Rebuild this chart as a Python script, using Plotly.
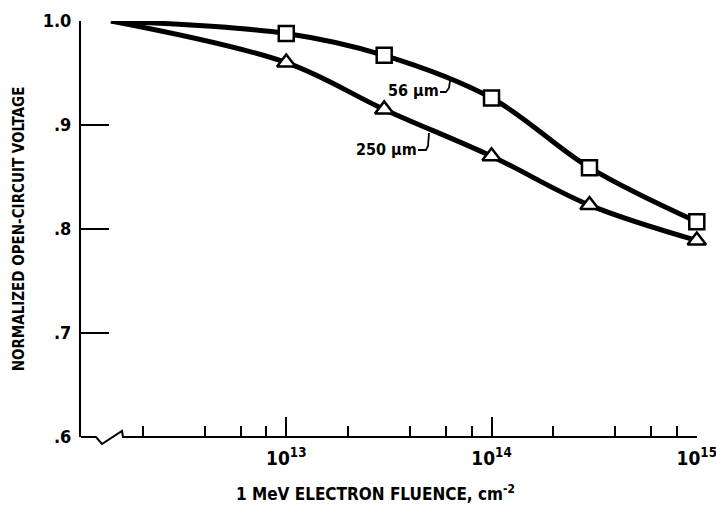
import plotly.graph_objects as go

# ---- data ----
fluence = [1e13, 3e13, 1e14, 3e14, 1e15]
voc_56um = [0.988, 0.967, 0.926, 0.859, 0.807]
voc_250um = [0.960, 0.915, 0.870, 0.823, 0.789]

# curve start (left end, both curves merge at 1.0)
curve_start_x = [1.4e12]
curve_start_56 = [1.0]
curve_start_250 = [1.0]

x_major = [1e13, 1e14, 1e15]
x_major_exp = ["13", "14", "15"]
x_minor = [m * 10 ** e for e in (12, 13, 14) for m in (2, 4, 6, 8)]
y_ticks = [0.6, 0.7, 0.8, 0.9, 1.0]
y_text = [".6", ".7", ".8", ".9", "1.0"]

FONT = "DejaVu Sans Condensed, Liberation Sans Narrow, sans-serif"

W, H = 716, 514
L, R, T, B = 81, 19, 21, 77
PW, PH = W - L - R, H - T - B


def px(x):
    return (x - L) / PW


def py(y):
    return (H - B - y) / PH


fig = go.Figure()

for sx, sy, vals in ((curve_start_x, curve_start_56, voc_56um),
                     (curve_start_x, curve_start_250, voc_250um)):
    fig.add_trace(go.Scatter(
        x=sx + fluence, y=sy + vals, mode="lines",
        line=dict(color="black", width=5, shape="spline", smoothing=1.0),
        showlegend=False, hoverinfo="skip", cliponaxis=False))

fig.add_trace(go.Scatter(
    x=fluence, y=voc_56um, mode="markers", name="56 µm",
    marker=dict(symbol="square", size=15, color="white",
                line=dict(color="black", width=2.5)),
    showlegend=False, cliponaxis=False))
fig.add_trace(go.Scatter(
    x=fluence, y=voc_250um, mode="markers", name="250 µm",
    marker=dict(symbol="triangle-up", size=16, color="white",
                line=dict(color="black", width=2.5)),
    showlegend=False, cliponaxis=False))

# bottom axis line with break symbol (pixel geometry)
pts = [(81, 437), (96, 437), (102, 444), (122, 431), (123, 437), (697, 437)]
path = "M " + " L ".join(f"{px(a):.5f},{py(b):.5f}" for a, b in pts)
shapes = [dict(type="path", xref="paper", yref="paper", path=path,
               line=dict(color="black", width=2))]

# leader lines for labels
leaders = [
    [(440, 92), (446, 92), (449, 88), (450, 81)],
    [(418, 150), (426, 150), (428, 146), (429, 133)],
]
for lp in leaders:
    p = "M " + " L ".join(f"{px(a):.5f},{py(b):.5f}" for a, b in lp)
    shapes.append(dict(type="path", xref="paper", yref="paper", path=p,
                       line=dict(color="black", width=1.8)))

annotations = [
    dict(x=px(441), y=py(91), xref="paper", yref="paper", text="56 µm",
         showarrow=False, xanchor="right", yanchor="middle",
         font=dict(family=FONT, size=16, color="black", weight="bold")),
    dict(x=px(419), y=py(149), xref="paper", yref="paper", text="250 µm",
         showarrow=False, xanchor="right", yanchor="middle",
         font=dict(family=FONT, size=16, color="black", weight="bold")),
    dict(x=px(375), y=py(493), xref="paper", yref="paper",
         text="1 MeV ELECTRON FLUENCE, cm<sup>-2</sup>",
         showarrow=False, xanchor="center", yanchor="middle",
         font=dict(family=FONT, size=17, color="black", weight="bold")),
]

fig.update_layout(
    width=W, height=H,
    margin=dict(l=L, r=R, t=T, b=B, pad=0),
    paper_bgcolor="white", plot_bgcolor="white",
    shapes=shapes, annotations=annotations,
    font=dict(family=FONT, color="black", weight="bold"),
    xaxis=dict(
        type="log", range=[12.0, 15.001], automargin=False,
        showline=False, showgrid=False, zeroline=False,
        tickvals=x_major,
        ticktext=[f"10<sup>{e}</sup>" for e in x_major_exp],
        ticks="inside", ticklen=20, tickwidth=2, tickcolor="black",
        tickfont=dict(family=FONT, size=19, color="black"),
        ticklabelstandoff=8, ticklabeloverflow="allow",
        minor=dict(tickvals=x_minor, ticks="inside", ticklen=11,
                   tickwidth=1.5, tickcolor="black", showgrid=False),
    ),
    yaxis=dict(
        range=[0.6, 1.0], automargin=False,
        showline=True, linewidth=2, linecolor="black",
        showgrid=False, zeroline=False,
        tickvals=y_ticks, ticktext=y_text,
        ticks="inside", ticklen=28, tickwidth=2, tickcolor="black",
        tickfont=dict(family=FONT, size=18, color="black"),
        ticklabelstandoff=4,
        title=dict(text="NORMALIZED OPEN-CIRCUIT VOLTAGE",
                   font=dict(family=FONT, size=15, color="black"),
                   standoff=14),
    ),
)

fig.write_html("out.html")
